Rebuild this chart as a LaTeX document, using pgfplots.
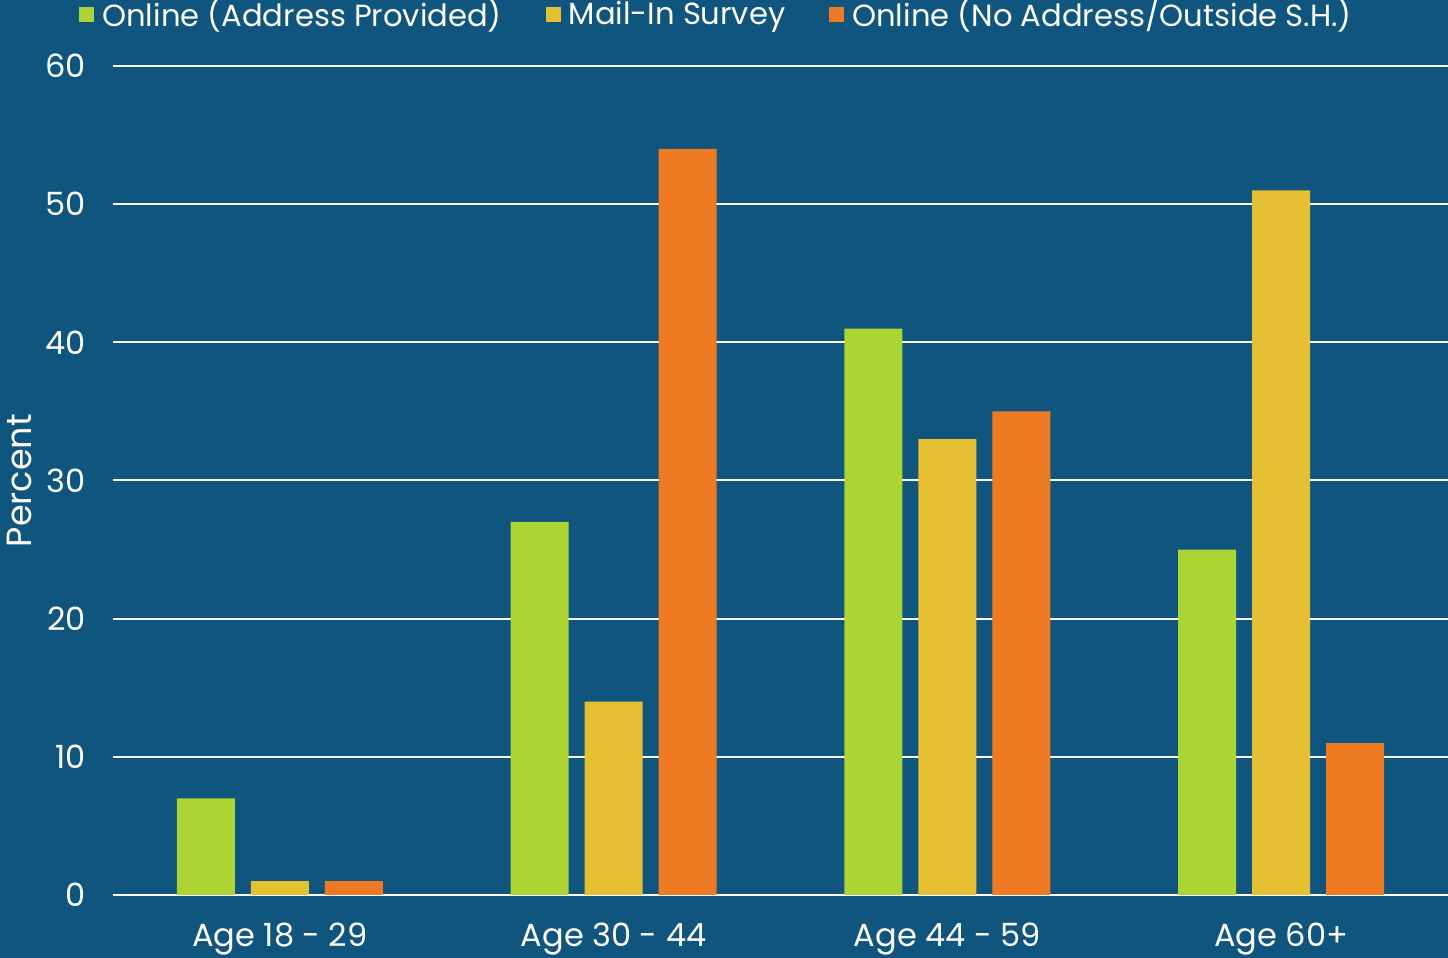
\documentclass[border=0pt]{standalone}
\usepackage{pgfplots}
\pgfplotsset{compat=1.18}
\usepackage{fontspec}
\setmainfont{Poppins}
\definecolor{bg}{HTML}{10557E}
\definecolor{cgreen}{HTML}{ADD435}
\definecolor{cyellow}{HTML}{E5C033}
\definecolor{corange}{HTML}{EE7A24}
\begin{document}
\begin{tikzpicture}[x=1pt,y=1pt]
\fill[bg] (-56.5,-31.5) rectangle (667.5,447.5);
\begin{axis}[
  at={(0,0)}, anchor=south west,
  scale only axis, width=667.5pt, height=414.5pt,
  ybar=8pt, bar width=29pt,
  xmin=-0.5, xmax=3.5, ymin=0, ymax=60,
  xtick={0,1,2,3},
  xticklabels={Age 18 - 29, Age 30 - 44, Age 44 - 59, Age 60+},
  ytick={0,10,...,60},
  axis line style={draw=none},
  tick style={draw=none},
  ymajorgrids, major grid style={white, line width=1pt},
  axis on top=false,
  tick label style={white, font=\fontsize{16}{19}\selectfont},
  /pgf/number format/assume math mode=true,
  yticklabel style={xshift=-10pt},
  xticklabel style={yshift=-6pt},
  ylabel={Percent},
  ylabel style={white, font=\fontsize{17.5}{20}\selectfont, at={(axis description cs:-0.0697,0.5)}, anchor=center},
  legend columns=3,
  legend style={draw=none, fill=none, text=white, font=\fontsize{15.3}{18}\selectfont,
    at={(axis description cs:-0.0255,1.0627)}, anchor=west,
    /tikz/every even column/.append style={column sep=20pt},
    /tikz/every odd column/.append style={column sep=2pt}, inner sep=0pt},
  legend image code/.code={\fill[#1] (0,-3.75pt) rectangle (7.5pt,3.75pt);},
]
\addplot[fill=cgreen, draw=none] coordinates {(0,7) (1,27) (2,41) (3,25)};
\addplot[fill=cyellow, draw=none] coordinates {(0,1) (1,14) (2,33) (3,51)};
\addplot[fill=corange, draw=none] coordinates {(0,1) (1,54) (2,35) (3,11)};
\legend{Online (Address Provided), Mail-In Survey, Online (No Address/Outside S.H.)}
\end{axis}
\pgfresetboundingbox
\useasboundingbox (-56.5,-31.5) rectangle (667.5,447.5);
\end{tikzpicture}
\end{document}
